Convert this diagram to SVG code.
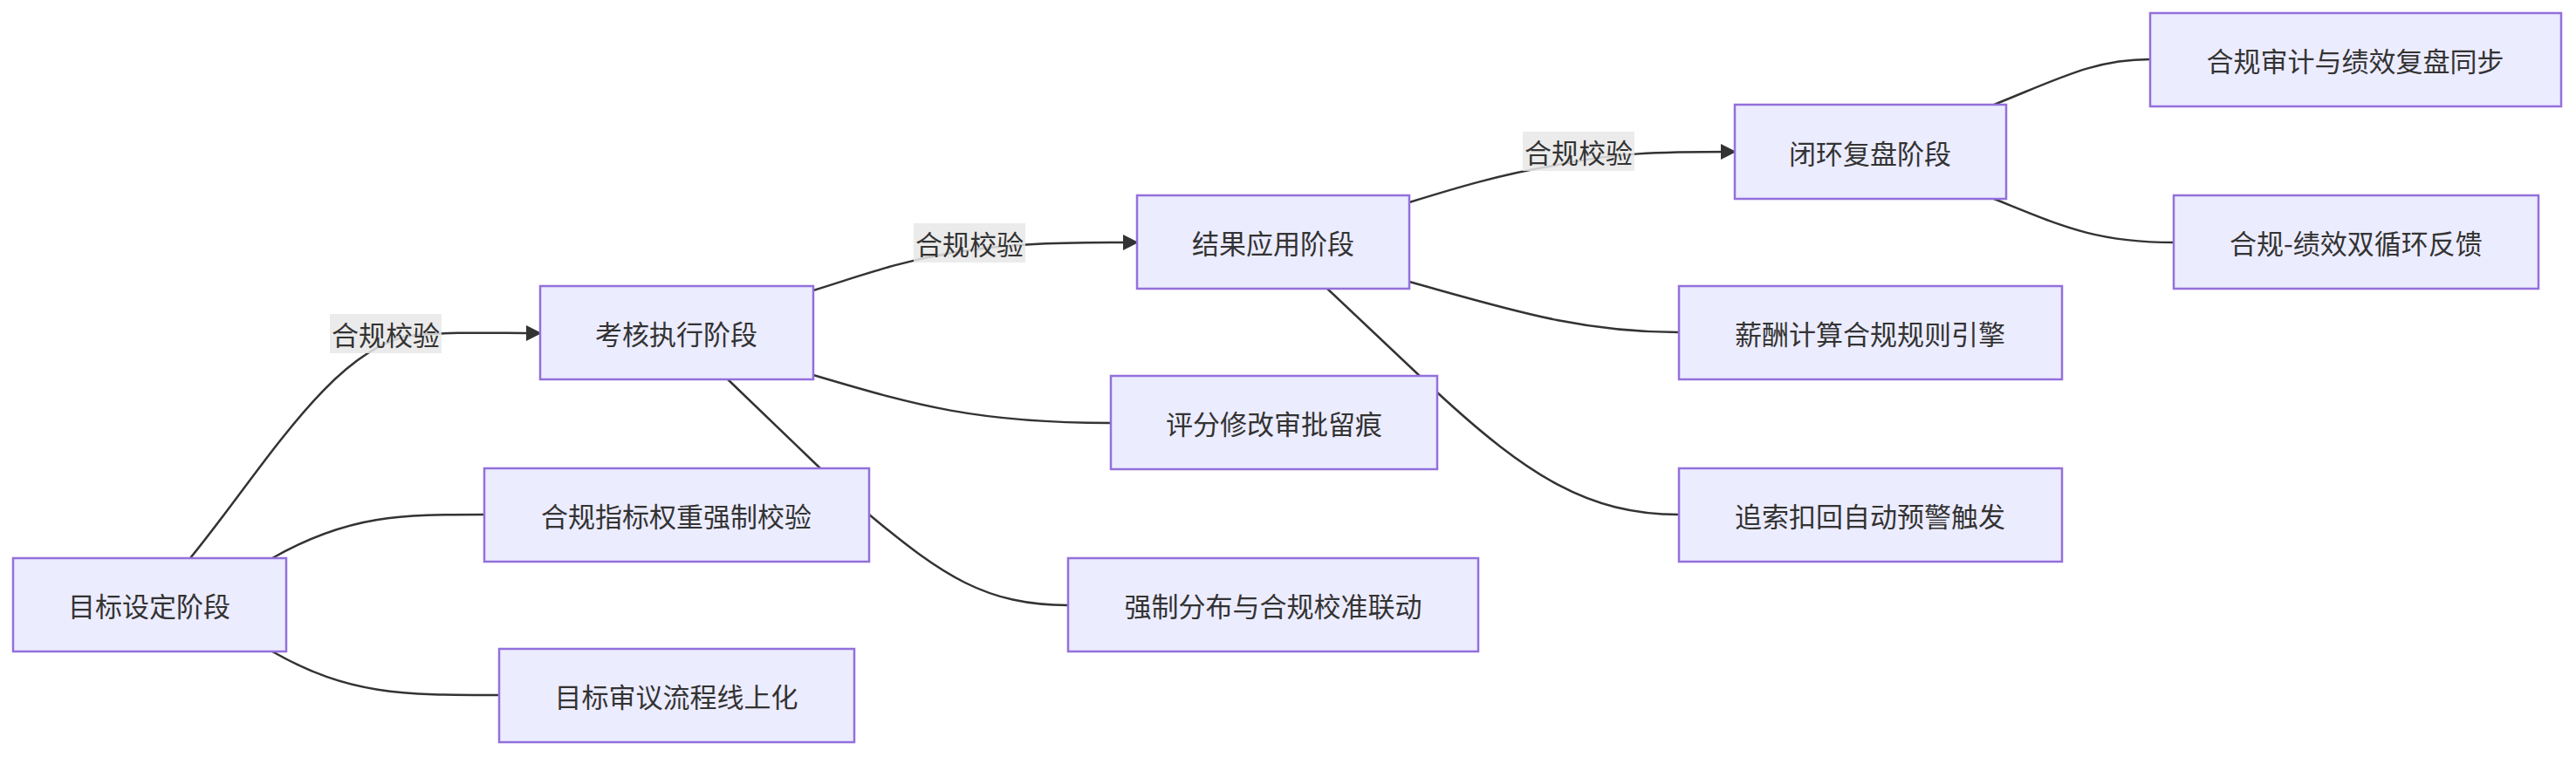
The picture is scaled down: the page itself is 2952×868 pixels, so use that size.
<svg xmlns="http://www.w3.org/2000/svg" width="2952" height="868" viewBox="0 0 2952 868">
<style>
.n rect{fill:#ECECFF;stroke:#9370DB;stroke-width:2.5}
text{font-family:"Noto Sans CJK SC","Liberation Sans",sans-serif;font-size:31px;fill:#333;text-anchor:middle;dominant-baseline:central}
.e path{fill:none;stroke:#333;stroke-width:2.5}
.lb rect{fill:#e8e8e8;opacity:0.85}
</style>
<defs><marker id="a" viewBox="0 0 10 10" refX="9" refY="5" markerWidth="7" markerHeight="7" markerUnits="userSpaceOnUse" orient="auto"><path d="M0,0L10,5L0,10z" fill="#333"/></marker>
<marker id="ah" viewBox="0 0 10 10" refX="9" refY="5" markerWidth="18" markerHeight="18" markerUnits="userSpaceOnUse" orient="auto"><path d="M0,0L10,5L0,10z" fill="#333"/></marker></defs>
<g class="e" id="edges">
<path d="M218,640 C300,540 380,400 470,385 C520,380 560,382 619,382" marker-end="url(#ah)"/>
<path d="M312,640 C400,590 460,590 555,590"/>
<path d="M312,747 C400,797 460,797 572,797"/>
<path d="M932,333 C990,315 1030,300 1090,290 C1150,280 1200,278 1303,278" marker-end="url(#ah)"/>
<path d="M932,430 C1050,465 1120,485 1273,485"/>
<path d="M834,435 L940,537 L996,590 C1080,660 1130,694 1224,694"/>
<path d="M1615,232 C1670,215 1720,200 1780,190 C1850,175 1900,174 1988,174" marker-end="url(#ah)"/>
<path d="M1615,323 C1730,355 1810,381 1924,381"/>
<path d="M1521,331 L1647,450 C1750,545 1820,590 1924,590"/>
<path d="M2285,120 C2360,90 2400,68 2464,68"/>
<path d="M2285,228 C2360,258 2400,278 2491,278"/>
</g>
<g class="lb">
<rect x="378" y="360" width="128" height="45"/><text x="442" y="382">合规校验</text>
<rect x="1047" y="256" width="128" height="45"/><text x="1111" y="278">合规校验</text>
<rect x="1745" y="151" width="128" height="45"/><text x="1809" y="173">合规校验</text>
</g>
<g class="n" id="n1"><rect x="15" y="640" width="313" height="107"/><text x="171" y="693">目标设定阶段</text></g>
<g class="n" id="n2"><rect x="619" y="328" width="313" height="107"/><text x="775" y="381">考核执行阶段</text></g>
<g class="n" id="n3"><rect x="555" y="537" width="441" height="107"/><text x="775" y="590">合规指标权重强制校验</text></g>
<g class="n" id="n4"><rect x="572" y="744" width="407" height="107"/><text x="775" y="797">目标审议流程线上化</text></g>
<g class="n" id="n5"><rect x="1303" y="224" width="312" height="107"/><text x="1459" y="277">结果应用阶段</text></g>
<g class="n" id="n6"><rect x="1273" y="431" width="374" height="107"/><text x="1460" y="484">评分修改审批留痕</text></g>
<g class="n" id="n7"><rect x="1224" y="640" width="470" height="107"/><text x="1459" y="693">强制分布与合规校准联动</text></g>
<g class="n" id="n8"><rect x="1988" y="120" width="311" height="108"/><text x="2143" y="174">闭环复盘阶段</text></g>
<g class="n" id="n9"><rect x="1924" y="328" width="439" height="107"/><text x="2143" y="381">薪酬计算合规规则引擎</text></g>
<g class="n" id="n10"><rect x="1924" y="537" width="439" height="107"/><text x="2143" y="590">追索扣回自动预警触发</text></g>
<g class="n" id="n11"><rect x="2464" y="15" width="471" height="107"/><text x="2699" y="68">合规审计与绩效复盘同步</text></g>
<g class="n" id="n12"><rect x="2491" y="224" width="418" height="107"/><text x="2700" y="277">合规-绩效双循环反馈</text></g>
</svg>
